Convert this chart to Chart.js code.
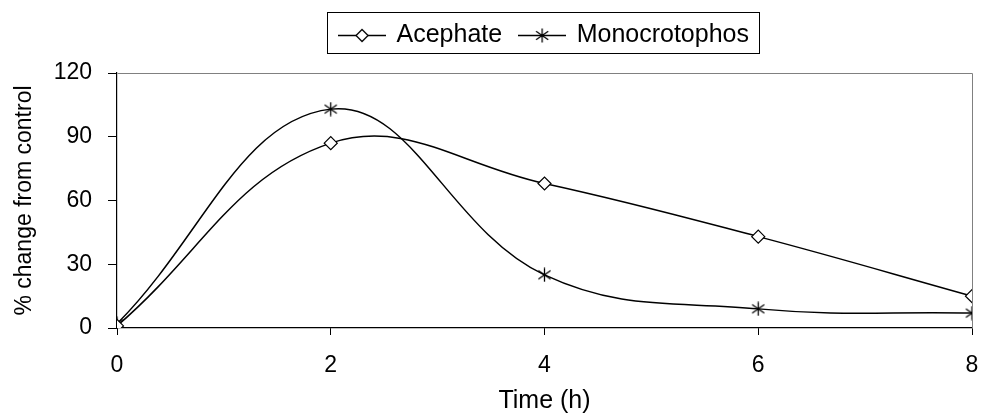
<!DOCTYPE html>
<html>
<head>
<meta charset="utf-8">
<script src="https://cdn.jsdelivr.net/npm/chart.js@4.4.1/dist/chart.umd.min.js"></script>
<style>
html,body{margin:0;padding:0;background:#fff;}
#wrap{width:981px;height:416px;position:relative;}
</style>
</head>
<body>
<div id="wrap"><canvas id="c" width="981" height="416"></canvas></div>
<script>
// ---- data ----
const times = [0, 2, 4, 6, 8];
const acephate = [1, 87, 68, 43, 15];
const monocrotophos = [2, 103, 25, 9, 7];
const seriesNames = ['Acephate', 'Monocrotophos'];
const yTicks = [0, 30, 60, 90, 120];
const xTicks = [0, 2, 4, 6, 8];

const FONT = "'Liberation Sans', Arial, sans-serif";

function starCanvas(withLine, w) {
  const s = 15;
  const cw = withLine ? w : s;
  const c = document.createElement('canvas');
  c.width = cw; c.height = s;
  const g = c.getContext('2d');
  g.strokeStyle = '#000'; g.lineWidth = 1.3;
  const cx = cw / 2, cy = s / 2, r = 7;
  if (withLine) { g.beginPath(); g.moveTo(0, cy); g.lineTo(cw, cy); g.stroke(); }
  g.beginPath();
  g.moveTo(cx, cy - r); g.lineTo(cx, cy + r);
  g.moveTo(cx - r * 0.87, cy - r * 0.6); g.lineTo(cx + r * 0.87, cy + r * 0.6);
  g.moveTo(cx - r * 0.87, cy + r * 0.6); g.lineTo(cx + r * 0.87, cy - r * 0.6);
  g.stroke();
  return c;
}
function diamondCanvas(w) {
  const s = 15;
  const c = document.createElement('canvas');
  c.width = w; c.height = s;
  const g = c.getContext('2d');
  g.strokeStyle = '#000'; g.lineWidth = 1.3;
  const cx = w / 2, cy = s / 2, r = 6;
  g.beginPath(); g.moveTo(0, cy); g.lineTo(w, cy); g.stroke();
  g.beginPath();
  g.moveTo(cx, cy - r); g.lineTo(cx + r, cy); g.lineTo(cx, cy + r); g.lineTo(cx - r, cy); g.closePath();
  g.fillStyle = '#fff'; g.fill(); g.stroke();
  return c;
}
const LEG_W = 48;
const legendIcons = [diamondCanvas(LEG_W), starCanvas(true, LEG_W)];
const starPoint = starCanvas(false);

const framePlugin = {
  id: 'frame',
  beforeLayout(chart) {
    const lg = chart.legend;
    if (lg && !lg._extraPatched) {
      const origFit = lg.fit.bind(lg);
      lg.fit = function () { origFit(); this.height += 15; };
      lg._extraPatched = true;
    }
  },
  beforeDatasetsDraw(chart) {
    const a = chart.chartArea, ctx = chart.ctx;
    ctx.save();
    ctx.strokeStyle = '#808080'; ctx.lineWidth = 1;
    ctx.beginPath();
    ctx.moveTo(Math.round(a.left) + 0.5, Math.round(a.top) + 0.5);
    ctx.lineTo(Math.round(a.right) + 0.5, Math.round(a.top) + 0.5);
    ctx.lineTo(Math.round(a.right) + 0.5, Math.round(a.bottom) + 0.5);
    ctx.stroke();
    ctx.restore();
  },
  afterDraw(chart) {
    const lg = chart.legend;
    if (!lg || !lg.legendHitBoxes || !lg.legendHitBoxes.length) return;
    let l = Infinity, r = -Infinity;
    lg.legendHitBoxes.forEach(h => { l = Math.min(l, h.left); r = Math.max(r, h.left + h.width); });
    const ctx = chart.ctx;
    ctx.save();
    ctx.strokeStyle = '#000'; ctx.lineWidth = 1;
    ctx.strokeRect(Math.round(l - 13) + 0.5, 12.5, Math.round(r - l + 23), 41);
    ctx.restore();
  }
};

new Chart(document.getElementById('c'), {
  type: 'line',
  data: {
    datasets: [
      {
        label: seriesNames[0],
        data: times.map((t, i) => ({ x: t, y: acephate[i] })),
        borderColor: '#000', borderWidth: 1.5,
        pointStyle: 'rectRot', pointRadius: 6.5, pointBackgroundColor: '#fff', pointBorderColor: '#000', pointBorderWidth: 1.2,
        tension: 0.4, fill: false
      },
      {
        label: seriesNames[1],
        data: times.map((t, i) => ({ x: t, y: monocrotophos[i] })),
        borderColor: '#000', borderWidth: 1.5,
        pointStyle: starPoint, pointRadius: 7, pointBorderColor: '#000',
        tension: 0.4, fill: false
      }
    ]
  },
  options: {
    responsive: false,
    animation: false,
    devicePixelRatio: 1,
    layout: { padding: { left: 0, right: 9, top: 5, bottom: 0 } },
    plugins: {
      tooltip: { enabled: false },
      legend: {
        display: true,
        position: 'top',
        fullSize: false,
        labels: {
          font: { family: FONT, size: 25 },
          color: '#000',
          usePointStyle: true,
          pointStyleWidth: 44,
          padding: 18,
          generateLabels(chart) {
            return chart.data.datasets.map((d, i) => ({
              text: d.label, pointStyle: legendIcons[i], datasetIndex: i,
              fillStyle: '#fff', strokeStyle: '#000', lineWidth: 0, fontColor: '#000'
            }));
          }
        }
      }
    },
    scales: {
      x: {
        type: 'linear', min: 0, max: 8,
        afterBuildTicks(scale) { scale.ticks = xTicks.map(v => ({ value: v })); },
        afterFit(scale) { scale.height = 88; scale.paddingLeft = 0; scale.paddingRight = 0; },
        border: { display: true, color: '#000', width: 1.2 },
        grid: { display: true, drawOnChartArea: false, drawTicks: true, tickLength: 7, color: '#000', tickColor: '#000' },
        ticks: { font: { family: FONT, size: 23 }, color: '#000', padding: 17, maxRotation: 0 },
        title: { display: true, text: 'Time (h)', font: { family: FONT, size: 25 }, color: '#000', padding: { top: 2, bottom: 0 } }
      },
      y: {
        type: 'linear', min: 0, max: 120,
        afterBuildTicks(scale) { scale.ticks = yTicks.map(v => ({ value: v })); },
        afterFit(scale) { scale.width = 117; },
        border: { display: true, color: '#000', width: 1.2 },
        grid: { display: true, drawOnChartArea: false, drawTicks: true, tickLength: 9, color: '#000', tickColor: '#000' },
        ticks: { font: { family: FONT, size: 23 }, color: '#000', padding: 16 },
        title: { display: true, text: '% change from control', font: { family: FONT, size: 23 }, color: '#000', padding: { top: 11, bottom: 8 } }
      }
    }
  },
  plugins: [framePlugin]
});
</script>
</body>
</html>
